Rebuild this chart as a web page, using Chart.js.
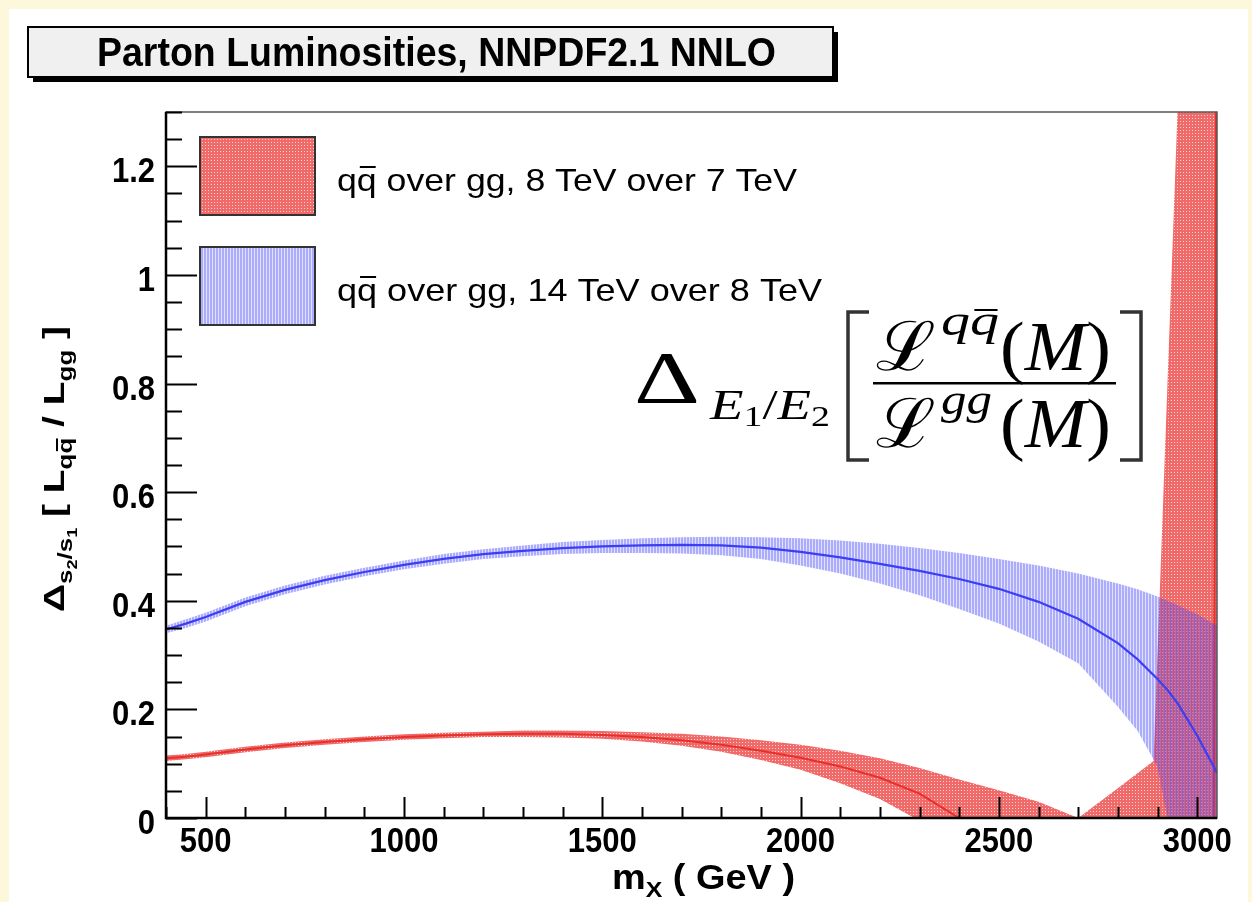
<!DOCTYPE html>
<html>
<head>
<meta charset="utf-8">
<title>Parton Luminosities, NNPDF2.1 NNLO</title>
<script src="https://cdn.jsdelivr.net/npm/chart.js@4.4.1/dist/chart.umd.min.js"></script>
<style>
  html, body { margin: 0; padding: 0; background: #fdf7dc; }
  #lumiChart { display: block; }
</style>
</head>
<body>
<canvas id="lumiChart" width="1252" height="902"></canvas>
<script>
// ─── Data ────────────────────────────────────────────────────
// qq̄ / gg luminosity ratio, 14 TeV over 8 TeV (central value + band)
const blueMass    = [400, 450, 500, 600, 700, 800, 900, 1000, 1100, 1200, 1300, 1400, 1500, 1600, 1700, 1800, 1900, 2000, 2100, 2200, 2300, 2400, 2500, 2600, 2700, 2800, 2850, 2900, 2925, 2950, 3000, 3050];
const blueCentral = [0.347, 0.358, 0.370, 0.398, 0.420, 0.438, 0.453, 0.466, 0.477, 0.486, 0.492, 0.497, 0.500, 0.502, 0.503, 0.502, 0.498, 0.490, 0.480, 0.468, 0.455, 0.440, 0.422, 0.398, 0.367, 0.322, 0.292, 0.256, 0.236, 0.212, 0.152, 0.083];
const blueUpper   = [0.354, 0.366, 0.378, 0.406, 0.428, 0.446, 0.461, 0.474, 0.486, 0.495, 0.502, 0.508, 0.512, 0.515, 0.517, 0.518, 0.517, 0.515, 0.511, 0.505, 0.497, 0.488, 0.477, 0.465, 0.450, 0.432, 0.421, 0.408, 0.400, 0.392, 0.375, 0.354];
const blueLower   = [0.340, 0.350, 0.362, 0.390, 0.412, 0.430, 0.445, 0.458, 0.468, 0.477, 0.482, 0.486, 0.488, 0.488, 0.487, 0.484, 0.477, 0.465, 0.450, 0.432, 0.410, 0.385, 0.358, 0.325, 0.285, 0.205, 0.160, 0.095, 0.0, -0.05, -0.15, -0.25];

// qq̄ / gg luminosity ratio, 8 TeV over 7 TeV
const redMass    = [400, 450, 500, 600, 700, 800, 900, 1000, 1100, 1200, 1300, 1400, 1500, 1600, 1700, 1800, 1900, 2000, 2100, 2200, 2300, 2400, 2500, 2600, 2700, 2800, 2890, 2960, 3000, 3040, 3050];
const redCentral = [0.110, 0.113, 0.117, 0.126, 0.134, 0.140, 0.145, 0.149, 0.152, 0.154, 0.155, 0.155, 0.153, 0.149, 0.143, 0.135, 0.124, 0.111, 0.095, 0.074, 0.045, 0.0, -0.06, -0.12, -0.2, -0.3, -0.4, -0.5, -0.55, -0.5, 2.0];
const redUpper   = [0.115, 0.118, 0.122, 0.131, 0.139, 0.145, 0.150, 0.154, 0.157, 0.159, 0.161, 0.161, 0.160, 0.158, 0.155, 0.150, 0.143, 0.135, 0.124, 0.110, 0.092, 0.071, 0.051, 0.030, 0.0, 0.055, 0.105, 1.49, 2.3, 3.1, 3.3];
const redLower   = [0.105, 0.108, 0.112, 0.121, 0.129, 0.135, 0.140, 0.144, 0.147, 0.149, 0.149, 0.148, 0.146, 0.141, 0.133, 0.122, 0.107, 0.089, 0.064, 0.035, -0.005, -0.05, -0.12, -0.2, -0.3, -0.4, -0.5, -0.6, -0.7, -0.75, -0.8];

// Axes
const massMin = 400, massMax = 3050;
const massTicks = [500, 1000, 1500, 2000, 2500, 3000];
const ratioMin = 0, ratioMax = 1.3;
const ratioTicks = [0, 0.2, 0.4, 0.6, 0.8, 1, 1.2];

const legendLabels = ["8 TeV over 7 TeV", "14 TeV over 8 TeV"];

// ─── Fill patterns ───────────────────────────────────────────
const canvas = document.getElementById("lumiChart");
const mainCtx = canvas.getContext("2d");

function makePattern(w, h, paint) {
  const tile = document.createElement("canvas");
  tile.width = w; tile.height = h;
  paint(tile.getContext("2d"));
  return mainCtx.createPattern(tile, "repeat");
}

// dotted red, like ROOT's fine hatch style
const redPattern = makePattern(3, 3, g => {
  g.fillStyle = "rgba(236,48,48,0.72)";
  g.fillRect(0, 0, 3, 3);
  g.clearRect(1, 1, 1, 1);
  g.fillStyle = "rgba(236,48,48,0.22)";
  g.fillRect(1, 1, 1, 1);
});

// vertical blue stripes, semi transparent so the overlap turns purple
const bluePattern = makePattern(3, 1, g => {
  g.fillStyle = "rgba(70,70,250,0.45)";
  g.fillRect(0, 0, 2, 1);
  g.fillStyle = "rgba(70,70,250,0.16)";
  g.fillRect(2, 0, 1, 1);
});

const pts = (xs, ys) => xs.map((x, i) => ({ x, y: ys[i] }));

// ─── Text helpers ────────────────────────────────────────────
const SANS = '"Liberation Sans", Arial, sans-serif';
const SERIF = '"Liberation Serif", "DejaVu Serif", serif';

function runsWidth(ctx, runs) {
  let w = 0;
  for (const r of runs) { ctx.font = r.font; w += ctx.measureText(r.text).width + (r.kern || 0); }
  return w;
}

// draws a row of text runs (sub/superscripts via dy, overline via bar)
function drawRuns(ctx, x, y, runs) {
  let cx = x;
  for (const r of runs) {
    ctx.font = r.font;
    const w = ctx.measureText(r.text).width;
    const by = y + (r.dy || 0);
    ctx.fillText(r.text, cx, by);
    if (r.bar) ctx.fillRect(cx + w * 0.15, by - r.bar, w * 0.8, r.barW || 2);
    cx += w + (r.kern || 0);
  }
  return cx;
}

// same, stretched horizontally so the row spans [x0, x1]; sy stretches vertically
function drawFitted(ctx, x0, x1, y, runs, sy = 1) {
  const w = runsWidth(ctx, runs);
  ctx.save();
  ctx.translate(x0, y);
  ctx.scale((x1 - x0) / w, sy);
  drawRuns(ctx, 0, 0, runs);
  ctx.restore();
}

// ─── Decorations: frame, ticks, titles, legend, formula ──────
const luminosityDecor = {
  id: "luminosityDecor",
  beforeDraw(chart) {
    const { ctx, width, height } = chart;
    ctx.save();
    ctx.fillStyle = "#fdf7dc";
    ctx.fillRect(0, 0, width, height);
    ctx.fillStyle = "#ffffff";
    ctx.fillRect(9, 9, width - 13, height - 9);
    ctx.restore();
  },
  afterDatasetsDraw(chart) {
    const { ctx, chartArea: a, scales: { x, y } } = chart;
    ctx.save();
    // frame
    ctx.strokeStyle = "#555";
    ctx.lineWidth = 1.5;
    ctx.strokeRect(a.left, a.top, a.right - a.left, a.bottom - a.top);

    ctx.strokeStyle = "#000";
    ctx.lineWidth = 2;
    ctx.beginPath();
    // x ticks, drawn inward
    for (let m = 400; m <= massMax; m += 100) {
      const px = Math.round(x.getPixelForValue(m)) + 0.5;
      const len = massTicks.includes(m) ? 21 : 11;
      ctx.moveTo(px, a.bottom);
      ctx.lineTo(px, a.bottom - len);
    }
    // y ticks
    for (let k = 0; k * 0.05 <= ratioMax + 1e-9; k++) {
      const py = Math.round(y.getPixelForValue(k * 0.05)) + 0.5;
      const len = k % 4 === 0 ? 31 : 16;
      ctx.moveTo(a.left, py);
      ctx.lineTo(a.left + len, py);
    }
    ctx.stroke();

    // axis lines
    ctx.lineWidth = 2.5;
    ctx.beginPath();
    ctx.moveTo(a.left, a.top);
    ctx.lineTo(a.left, a.bottom);
    ctx.lineTo(a.right, a.bottom);
    ctx.stroke();

    // tick labels (tall bold face)
    ctx.fillStyle = "#000";
    ctx.font = `bold 31px ${SANS}`;
    ctx.textAlign = "center";
    for (const m of massTicks) {
      ctx.save();
      ctx.translate(x.getPixelForValue(m), 852);
      ctx.scale(1, 1.12);
      ctx.fillText(String(m), 0, 0);
      ctx.restore();
    }
    ctx.textAlign = "right";
    for (const v of ratioTicks) {
      ctx.save();
      ctx.translate(155, y.getPixelForValue(v) + 16);
      ctx.scale(1, 1.12);
      ctx.fillText(String(v), 0, 0);
      ctx.restore();
    }
    ctx.restore();
  },
  afterDraw(chart) {
    const { ctx } = chart;
    ctx.save();
    ctx.fillStyle = "#000";
    ctx.textBaseline = "alphabetic";
    ctx.textAlign = "left";

    // title box with drop shadow
    ctx.fillRect(33, 32, 805, 50);
    ctx.fillStyle = "#f0f0f0";
    ctx.fillRect(28, 27, 805, 50);
    ctx.strokeStyle = "#000";
    ctx.lineWidth = 2;
    ctx.strokeRect(28, 27, 805, 50);
    ctx.fillStyle = "#000";
    drawFitted(ctx, 97, 776, 66, [{ text: "Parton Luminosities, NNPDF2.1 NNLO", font: `bold 37px ${SANS}` }], 1.08);

    // legend
    const boxes = [{ pat: redPattern, top: 137, right: 797 }, { pat: bluePattern, top: 247, right: 822 }];
    boxes.forEach((b, i) => {
      ctx.fillStyle = "#fff";
      ctx.fillRect(200, b.top, 115, 78);
      ctx.fillStyle = b.pat;
      ctx.fillRect(200, b.top, 115, 78);
      ctx.strokeStyle = "#333";
      ctx.lineWidth = 2;
      ctx.strokeRect(200, b.top, 115, 78);
      ctx.fillStyle = "#000";
      const f = `32px ${SANS}`;
      drawFitted(ctx, 337, b.right, b.top + 54, [
        { text: "q", font: f },
        { text: "q", font: f, bar: 25 },
        { text: " over gg, " + legendLabels[i], font: f }
      ]);
    });

    // x axis title
    const bx = `bold 32px ${SANS}`;
    drawFitted(ctx, 612, 795, 889, [
      { text: "m", font: bx },
      { text: "X", font: `bold 21px ${SANS}`, dy: 7 },
      { text: " ( GeV )", font: bx }
    ], 1.08);

    // y axis title, rotated
    ctx.save();
    ctx.translate(64, 0);
    ctx.rotate(-Math.PI / 2);
    const by = `bold 30px ${SANS}`, bs = `bold 20px ${SANS}`, bss = `bold 14px ${SANS}`;
    drawFitted(ctx, -612, -326, 0, [
      { text: "Δ", font: by },
      { text: "s", font: bs, dy: 8 },
      { text: "2", font: bss, dy: 13 },
      { text: "/", font: bs, dy: 8 },
      { text: "s", font: bs, dy: 8 },
      { text: "1", font: bss, dy: 13 },
      { text: " [ L", font: by },
      { text: "q", font: bs, dy: 8 },
      { text: "q", font: bs, dy: 8, bar: 16 },
      { text: " / L", font: by },
      { text: "gg", font: bs, dy: 8 },
      { text: " ]", font: by }
    ]);
    ctx.restore();

    // formula: Δ_{E1/E2} [ L^{qq̄}(M) / L^{gg}(M) ]
    drawFitted(ctx, 634, 700, 403, [{ text: "Δ", font: `74px ${SERIF}` }]);
    const sub = `italic 42px ${SERIF}`, subN = `29px ${SERIF}`;
    drawFitted(ctx, 710, 830, 403, [
      { text: "E", font: sub, dy: 16 },
      { text: "1", font: subN, dy: 23 },
      { text: "/", font: `42px ${SERIF}`, dy: 16 },
      { text: "E", font: sub, dy: 16 },
      { text: "2", font: subN, dy: 23 }
    ]);
    ctx.lineWidth = 3.5;
    ctx.beginPath();
    ctx.moveTo(869, 312); ctx.lineTo(848, 312); ctx.lineTo(848, 460); ctx.lineTo(869, 460);
    ctx.moveTo(1120, 312); ctx.lineTo(1141, 312); ctx.lineTo(1141, 460); ctx.lineTo(1120, 460);
    ctx.stroke();
    ctx.fillRect(873, 382, 243, 2.5);

    const L = `68px ${SERIF}`, it = `italic 70px ${SERIF}`, sup = `italic 44px ${SERIF}`, up = `70px ${SERIF}`;
    const parenM = [{ text: "(", font: up }, { text: "M", font: it }, { text: ")", font: up }];
    // numerator
    drawFitted(ctx, 876, 936, 370, [{ text: "ℒ", font: L }]);
    drawFitted(ctx, 941, 999, 335, [
      { text: "q", font: sup },
      { text: "q", font: sup, bar: 26 }
    ]);
    drawFitted(ctx, 1000, 1111, 370, parenM);
    // denominator
    drawFitted(ctx, 876, 936, 447, [{ text: "ℒ", font: L }]);
    drawFitted(ctx, 941, 992, 414, [{ text: "gg", font: sup }]);
    drawFitted(ctx, 1000, 1111, 447, parenM);
    ctx.restore();
  }
};

// ─── Chart ───────────────────────────────────────────────────
new Chart(canvas, {
  type: "line",
  data: {
    datasets: [
      { label: "red upper", data: pts(redMass, redUpper), fill: "+1", backgroundColor: redPattern,
        borderWidth: 0, borderColor: "transparent", pointRadius: 0, tension: 0, order: 4 },
      { label: "red lower", data: pts(redMass, redLower), fill: false,
        borderWidth: 0, borderColor: "transparent", pointRadius: 0, tension: 0, order: 4 },
      { label: "red central", data: pts(redMass, redCentral), fill: false,
        borderWidth: 2, borderColor: "#e6302a", pointRadius: 0, tension: 0, order: 3 },
      { label: "blue upper", data: pts(blueMass, blueUpper), fill: "+1", backgroundColor: bluePattern,
        borderWidth: 0, borderColor: "transparent", pointRadius: 0, tension: 0, order: 2 },
      { label: "blue lower", data: pts(blueMass, blueLower), fill: false,
        borderWidth: 0, borderColor: "transparent", pointRadius: 0, tension: 0, order: 2 },
      { label: "blue central", data: pts(blueMass, blueCentral), fill: false,
        borderWidth: 2.2, borderColor: "#3d3df2", pointRadius: 0, tension: 0, order: 1 }
    ]
  },
  options: {
    responsive: false,
    devicePixelRatio: 1,
    animation: false,
    events: [],
    layout: { padding: { top: 112, right: 35, left: 0, bottom: 0 } },
    plugins: { legend: { display: false }, tooltip: { enabled: false }, title: { display: false } },
    scales: {
      x: {
        type: "linear",
        min: massMin,
        max: massMax,
        grid: { display: false, drawTicks: false },
        border: { display: false },
        afterBuildTicks: s => { s.ticks = massTicks.map(v => ({ value: v })); },
        afterFit: s => { s.height = 84; },
        ticks: { display: false }
      },
      y: {
        type: "linear",
        min: ratioMin,
        max: ratioMax,
        grid: { display: false, drawTicks: false },
        border: { display: false },
        afterBuildTicks: s => { s.ticks = ratioTicks.map(v => ({ value: v })); },
        afterFit: s => { s.width = 166; },
        ticks: { display: false }
      }
    }
  },
  plugins: [luminosityDecor]
});
</script>
</body>
</html>
